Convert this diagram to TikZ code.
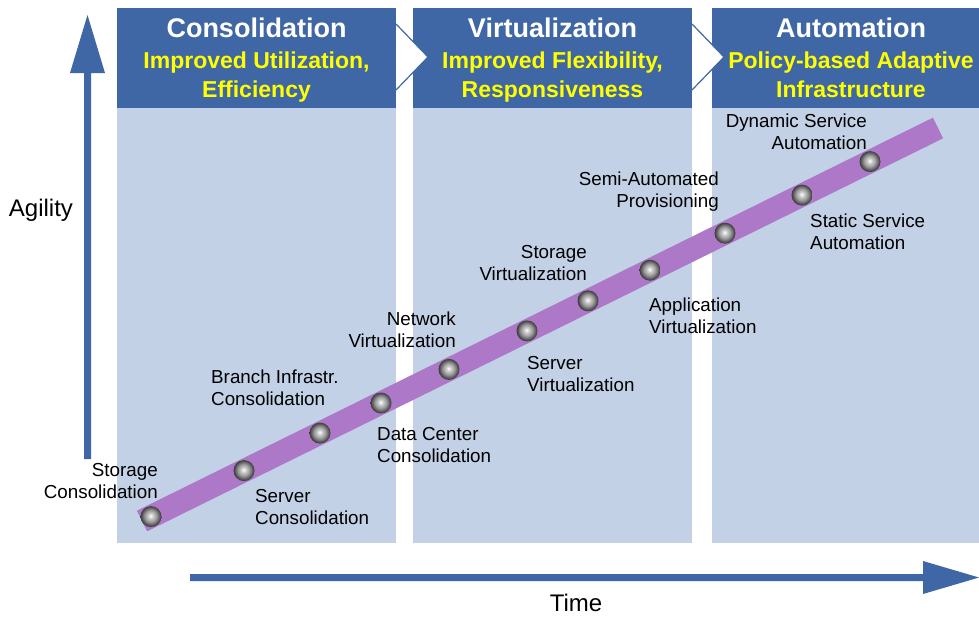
\documentclass[tikz,border=0pt]{standalone}
\usepackage{fontspec}
\setmainfont{Liberation Sans}
\definecolor{hdrblue}{RGB}{63,103,165}
\definecolor{bodyblue}{RGB}{195,209,231}
\definecolor{bandpurple}{RGB}{173,120,200}
\definecolor{subyellow}{RGB}{255,255,0}
\pgfdeclareradialshading{myball}{\pgfpoint{-1bp}{2bp}}{color(0bp)=(white); color(6bp)=(white!80!black); color(14bp)=(black!40); color(21bp)=(black!65); color(25bp)=(black!78); color(50bp)=(black!78)}
\newcommand{\fl}{\rule{0pt}{14pt}}
\newcommand{\sfl}{\rule{0pt}{17pt}}
\tikzset{
  hdr/.style={fill=hdrblue, draw=none},
  bodybox/.style={fill=bodyblue, draw=none},
  chev/.style={fill=white, draw=hdrblue, line width=1.2pt, line join=miter},
  ttl/.style={text=white, font=\bfseries\fontsize{27}{30}\selectfont, anchor=base, inner sep=0pt},
  sub/.style={text=subyellow, font=\bfseries\fontsize{23}{29}\selectfont, align=center, anchor=north, inner sep=0pt},
  lblL/.style={font=\fontsize{18.8}{22.5}\selectfont, align=left, anchor=north west, inner sep=0pt},
  lblR/.style={font=\fontsize{18.8}{22.5}\selectfont, align=right, anchor=north east, inner sep=0pt},
  axlbl/.style={font=\fontsize{24}{28}\selectfont, anchor=base, inner sep=0pt},
  ball/.style={circle, minimum size=21pt, inner sep=0pt, shading=myball},
  axarrow/.style={fill=hdrblue, draw=none}
}
\begin{document}
\begin{tikzpicture}[x=1pt,y=-1pt]
\useasboundingbox (0,0) rectangle (979,616);
% columns
\fill[bodybox] (117,108) rectangle (396,543);
\fill[bodybox] (413,108) rectangle (692,543);
\fill[bodybox] (712,108) rectangle (979,543);
\fill[hdr] (117,8) rectangle (396,108);
\fill[hdr] (413,8) rectangle (692,108);
\fill[hdr] (712,8) rectangle (979,108);
% chevrons
\filldraw[chev] (396,24) -- (428,57) -- (396,90);
\filldraw[chev] (692,24) -- (724,57) -- (692,90);
% header texts
\node[ttl] (t1) at (256.5,37) {Consolidation};
\node[sub] (s1) at (256.5,51) {\sfl Improved Utilization,\\Efficiency};
\node[ttl] (t2) at (552.5,37) {Virtualization};
\node[sub] (s2) at (552.5,51) {\sfl Improved Flexibility,\\Responsiveness};
\node[ttl] (t3) at (851,37) {Automation};
\node[sub] (s3) at (851,51) {\sfl Policy-based Adaptive\\Infrastructure};
% axes
\fill[axarrow] (84,459) -- (84,73) -- (70,73) -- (87.5,15) -- (105,73) -- (91,73) -- (91,459) -- cycle;
\fill[axarrow] (190,574) -- (923,574) -- (923,561) -- (979,577.5) -- (923,594) -- (923,581) -- (190,581) -- cycle;
\node[axlbl] (agility) at (41,216.5) {Agility};
\node[axlbl] (time) at (576,611.5) {Time};
% band
\coordinate (bandS) at (142,521);
\coordinate (bandE) at (938,128);
\draw[bandpurple, line width=23pt] (bandS) -- (bandE);
% balls
\node[ball] (b1) at (151,516.6) {};
\node[ball] (b2) at (244,470.6) {};
\node[ball] (b3) at (320,433.1) {};
\node[ball] (b4) at (381,403.0) {};
\node[ball] (b5) at (449,369.4) {};
\node[ball] (b6) at (527,330.9) {};
\node[ball] (b7) at (588,300.8) {};
\node[ball] (b8) at (650,270.2) {};
\node[ball] (b9) at (725,233.2) {};
\node[ball] (b10) at (802,195.1) {};
\node[ball] (b11) at (870,161.6) {};
% labels
\node[lblR] (l1) at (158,462) {\fl Storage\\Consolidation};
\node[lblL] (l2) at (255,488) {\fl Server\\Consolidation};
\node[lblL] (l3) at (211,369) {\fl Branch Infrastr.\\Consolidation};
\node[lblL] (l4) at (377,426) {\fl Data Center\\Consolidation};
\node[lblR] (l5) at (456,311) {\fl Network\\Virtualization};
\node[lblL] (l6) at (527,355) {\fl Server\\Virtualization};
\node[lblR] (l7) at (587,244) {\fl Storage\\Virtualization};
\node[lblL] (l8) at (649,297) {\fl Application\\Virtualization};
\node[lblR] (l9) at (719,171) {\fl Semi-Automated\\Provisioning};
\node[lblL] (l10) at (810,213) {\fl Static Service\\Automation};
\node[lblR] (l11) at (867,113) {\fl Dynamic Service\\Automation};
\end{tikzpicture}
\end{document}
